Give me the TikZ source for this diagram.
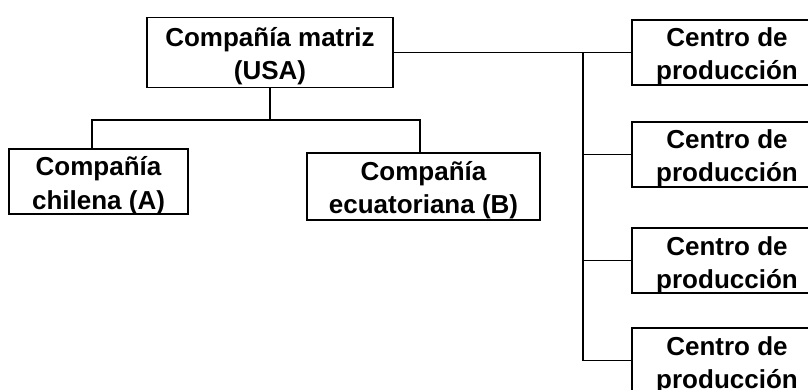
\documentclass[tikz,border=0pt]{standalone}
\usepackage{fontspec}
\setmainfont{Liberation Sans}
\begin{document}
\begin{tikzpicture}[x=1pt,y=-1pt,
  box/.style={draw,line width=1.6pt,inner sep=0pt,align=center,
    text height=55pt,text depth=0pt,
    font=\bfseries\fontsize{26}{33}\selectfont},
  conn/.style={line width=1.6pt}]
\useasboundingbox (0,0) rectangle (808,390);
\clip (0,0) rectangle (808,390);
\node[box,minimum width=246pt,minimum height=70pt] (top) at (270,52.5) {Compañía matriz\\(USA)};
\node[box,minimum width=179pt,minimum height=65pt] (A) at (98.5,181.5) {Compañía\\chilena (A)};
\node[box,minimum width=233pt,minimum height=67pt] (B) at (423.5,186.5) {Compañía\\ecuatoriana (B)};
\node[box,minimum width=190pt,minimum height=65pt] (P1) at (727,52.5) {Centro de\\producción};
\node[box,minimum width=190pt,minimum height=65pt] (P2) at (727,154.5) {Centro de\\producción};
\node[box,minimum width=190pt,minimum height=65pt] (P3) at (727,260.5) {Centro de\\producción};
\node[box,minimum width=190pt,minimum height=65pt] (P4) at (727,360.5) {Centro de\\producción};
\coordinate (busL) at (92,120);
\coordinate (busR) at (420,120);
\coordinate (trunk) at (583,0);
\draw[conn] (top.south) -- (top.south |- busL);
\draw[conn] (A.north -| busL) -- (busL) -- (busR) -- (B.north -| busR);
\draw[conn] (top.east) -- (P1.west);
\draw[conn] (trunk |- top.east) -- (trunk |- P4.west) -- (P4.west);
\draw[conn] (trunk |- P2.west) -- (P2.west);
\draw[conn] (trunk |- P3.west) -- (P3.west);
\end{tikzpicture}
\end{document}
